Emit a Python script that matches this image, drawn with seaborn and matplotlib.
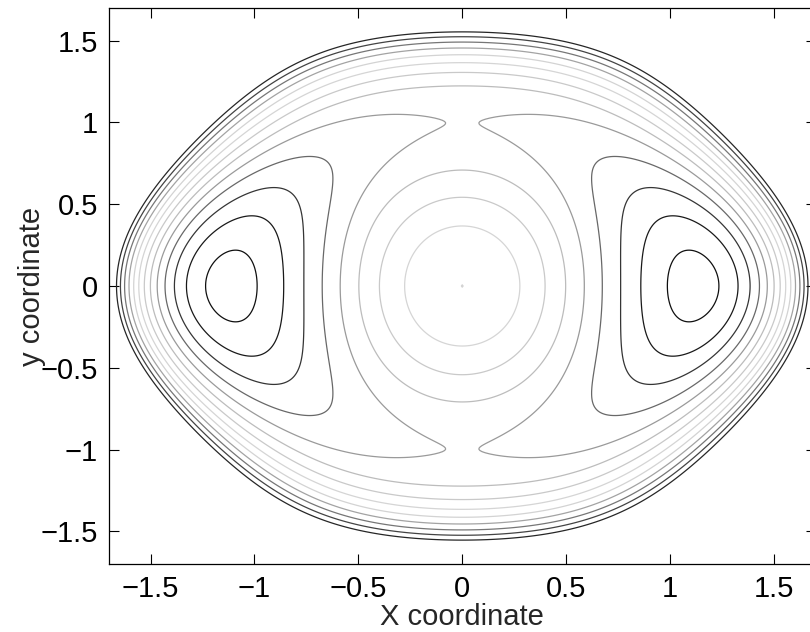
import numpy as np
import matplotlib
matplotlib.use("Agg")
import matplotlib.pyplot as plt
import seaborn as sns

# coefficients of the potential surface (fitted to the crossings in the picture)
coef_x2 = -1.0
coef_x4 = 0.4
coef_y2 = -0.5929
coef_y4 = 0.29646
coef_x2y2 = 1.0
coef_x2y4 = -0.15

# contour levels (13 evenly spaced lines)
levels = [-0.5946, -0.5203, -0.4460, -0.3717, -0.2974, -0.2231, -0.1488,
          -0.0745, -0.00003, 0.0741, 0.1484, 0.2227, 0.2970]

x_lim = [-1.7, 1.7]
y_lim = [-1.7, 1.7]
tick_values = [-1.5, -1, -0.5, 0, 0.5, 1, 1.5]
tick_labels = ["\u22121.5", "\u22121", "\u22120.5", "0", "0.5", "1", "1.5"]


def potential(x, y):
    return (coef_x2 * x**2 + coef_x4 * x**4 + coef_y2 * y**2 + coef_y4 * y**4
            + coef_x2y2 * x**2 * y**2 + coef_x2y4 * x**2 * y**4)


sns.set_style("ticks")
plt.rcParams['font.family'] = ['Liberation Sans', 'DejaVu Sans']
plt.rcParams['xtick.direction'] = 'in'
plt.rcParams['ytick.direction'] = 'in'

fig = plt.figure(figsize=(8.1, 6.32), dpi=100)
ax = fig.add_axes([109 / 810, 68 / 632, 706.5 / 810, 556 / 632])

gx = np.linspace(x_lim[0], x_lim[1], 481)
gy = np.linspace(y_lim[0], y_lim[1], 481)
X, Y = np.meshgrid(gx, gy)
Z = potential(X, Y)

# jet colours seen through a black and white printer
jet = plt.get_cmap('jet')
grays = []
for i in range(len(levels)):
    r, g, b, _ = jet(i / (len(levels) - 1))
    lum = 0.299 * r + 0.587 * g + 0.114 * b
    grays.append((lum, lum, lum))

ax.contour(X, Y, Z, levels=levels, colors=grays, linewidths=0.9)

ax.set_xlim(x_lim)
ax.set_ylim(y_lim)
ax.set_xticks(tick_values)
ax.set_xticklabels(tick_labels)
ax.set_yticks(tick_values)
ax.set_yticklabels(tick_labels)
ax.tick_params(axis='both', which='both', direction='in', length=7, width=0.8,
               top=True, right=True, labelsize=21, pad=8, colors='black')
for sp in ax.spines.values():
    sp.set_visible(True)
    sp.set_linewidth(0.9)
    sp.set_color('black')

ax.set_xlabel('X coordinate', fontsize=21, labelpad=0)
ax.set_ylabel('y coordinate', fontsize=21, labelpad=-4)

fig.savefig('out.png', dpi=100, facecolor='white')
